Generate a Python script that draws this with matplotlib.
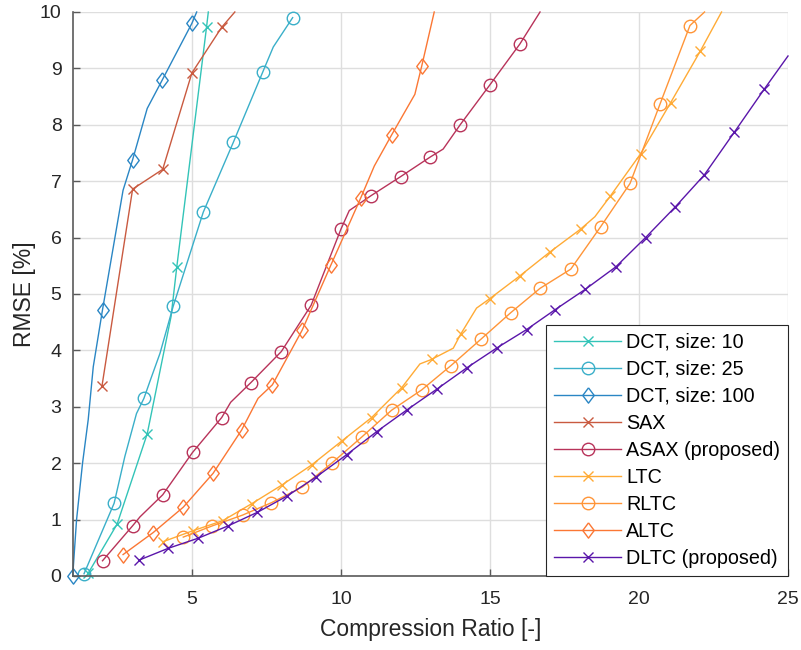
import matplotlib
matplotlib.use("Agg")
import matplotlib.pyplot as plt

plt.rcParams['font.family'] = ['Liberation Sans', 'DejaVu Sans']

# ---- data (compression ratio, RMSE %) ----
# markers are drawn only on the listed indices, other points are line kinks
dct10_x = [1.52, 2.49, 3.5, 4.3, 4.49, 5.49, 5.55]
dct10_y = [0.05, 0.92, 2.52, 4.6, 5.47, 9.73, 10.0]
dct10_mk = [0, 1, 2, 4, 5]

dct25_x = [1.38, 2.39, 2.75, 3.14, 3.39, 3.59, 3.93, 4.37, 5.38, 6.39, 7.38, 7.73, 8.38]
dct25_y = [0.04, 1.29, 2.12, 2.88, 3.15, 3.45, 3.95, 4.78, 6.45, 7.69, 8.94, 9.38, 9.9]
dct25_mk = [0, 1, 4, 7, 8, 9, 10, 12]

dct100_x = [1.0, 1.13, 1.33, 1.52, 1.69, 2.0, 2.69, 3.01, 3.5, 4.0, 5.0, 5.16]
dct100_y = [0.0, 1.0, 2.0, 2.77, 3.71, 4.72, 6.84, 7.38, 8.29, 8.79, 9.8, 10.0]
dct100_mk = [0, 5, 7, 9, 10]

sax_x = [1.98, 3.01, 4.02, 5.0, 6.0, 6.44]
sax_y = [3.36, 6.86, 7.21, 8.92, 9.73, 10.0]
sax_mk = [0, 1, 2, 3, 4]

asax_x = [2.0, 3.01, 3.26, 4.02, 5.02, 6.0, 6.3, 6.98, 8.0, 9.0, 10.0, 10.28,
          11.0, 12.0, 13.0, 13.43, 14.0, 15.0, 16.0, 16.68]
asax_y = [0.27, 0.89, 1.05, 1.44, 2.19, 2.81, 3.08, 3.43, 3.98, 4.8, 6.15, 6.48,
          6.74, 7.08, 7.43, 7.57, 8.0, 8.71, 9.43, 10.0]
asax_mk = [0, 1, 3, 4, 5, 7, 8, 9, 10, 12, 13, 14, 16, 17, 18]

ltc_x = [4.04, 5.02, 6.03, 7.0, 8.01, 9.02, 10.02, 11.03, 12.04, 12.65, 13.04,
         13.77, 14.02, 14.55, 15.0, 16.0, 17.0, 18.04, 18.52, 19.03, 20.06,
         21.06, 22.05, 22.77]
ltc_y = [0.61, 0.8, 0.98, 1.28, 1.61, 1.97, 2.39, 2.81, 3.34, 3.76, 3.84,
         4.04, 4.29, 4.75, 4.92, 5.32, 5.74, 6.15, 6.37, 6.73, 7.49,
         8.39, 9.3, 10.0]
ltc_mk = [0, 1, 2, 3, 4, 5, 6, 7, 8, 10, 12, 14, 15, 16, 17, 19, 20, 21, 22]

rltc_x = [4.71, 5.69, 6.7, 7.67, 8.71, 9.69, 10.69, 11.7, 12.71, 13.69, 14.7,
          15.7, 16.68, 17.71, 18.71, 19.7, 20.7, 21.71, 22.2]
rltc_y = [0.69, 0.89, 1.08, 1.3, 1.58, 2.0, 2.46, 2.94, 3.3, 3.73, 4.2,
          4.67, 5.1, 5.44, 6.19, 6.96, 8.36, 9.76, 10.0]
rltc_mk = list(range(18))

altc_x = [2.69, 3.7, 4.71, 5.71, 6.67, 7.22, 7.7, 8.7, 9.66, 10.67, 11.12,
          11.7, 12.48, 12.71, 13.13]
altc_y = [0.38, 0.77, 1.22, 1.82, 2.59, 3.15, 3.39, 4.36, 5.51, 6.71, 7.27,
          7.82, 8.54, 9.04, 10.0]
altc_mk = [0, 1, 2, 3, 4, 6, 7, 8, 9, 11, 13]

dltc_x = [3.22, 4.2, 5.21, 6.22, 7.2, 8.2, 9.18, 10.19, 11.2, 12.2, 13.21,
          14.22, 15.22, 16.23, 17.18, 18.19, 19.22, 20.22, 21.21, 22.19,
          23.2, 24.2, 25.0]
dltc_y = [0.28, 0.49, 0.67, 0.89, 1.13, 1.42, 1.76, 2.15, 2.56, 2.94, 3.31,
          3.69, 4.04, 4.37, 4.72, 5.08, 5.48, 6.0, 6.54, 7.11,
          7.87, 8.63, 9.22]
dltc_mk = list(range(22))

x_ticks = [5, 10, 15, 20, 25]
y_ticks = [0, 1, 2, 3, 4, 5, 6, 7, 8, 9, 10]

# matlab-like tall diamond
diamond = [(0, 1), (0.75, 0), (0, -1), (-0.75, 0), (0, 1)]

series = [
    (dct10_x, dct10_y, dct10_mk, "DCT, size: 10", '#33c4b8', 'x', 7),
    (dct25_x, dct25_y, dct25_mk, "DCT, size: 25", '#3aafc9', 'o', 9),
    (dct100_x, dct100_y, dct100_mk, "DCT, size: 100", '#2a86c4', diamond, 11),
    (sax_x, sax_y, sax_mk, "SAX", '#c95a40', 'x', 7),
    (asax_x, asax_y, asax_mk, "ASAX (proposed)", '#b8335a', 'o', 9),
    (ltc_x, ltc_y, ltc_mk, "LTC", '#ffab36', 'x', 7),
    (rltc_x, rltc_y, rltc_mk, "RLTC", '#ff9538', 'o', 9),
    (altc_x, altc_y, altc_mk, "ALTC", '#fb7734', diamond, 11),
    (dltc_x, dltc_y, dltc_mk, "DLTC (proposed)", '#5a16aa', 'x', 7),
]

fig = plt.figure(figsize=(8.01, 6.5), dpi=100)
ax = fig.add_axes([72.7/801, 74/650, (788-72.7)/801, 564/650])

for x, y, mk, name, col, m, ms in series:
    ax.plot(x, y, color=col, lw=1.0, marker=m, markevery=mk, ms=ms,
            mfc='none', mec=col, mew=1.0, label=name, clip_on=False)

ax.set_xlim(1, 25)
ax.set_ylim(0, 10)
ax.set_xticks(x_ticks)
ax.set_yticks(y_ticks)

ax.grid(True, color='#dedede', lw=1.0)
ax.set_axisbelow(True)
for s in ['top', 'right']:
    ax.spines[s].set_visible(False)
for s in ['left', 'bottom']:
    ax.spines[s].set_color('#5a5a5a')
    ax.spines[s].set_linewidth(1.2)
ax.tick_params(direction='in', length=5, width=1, color='#5a5a5a',
               labelsize=14, labelcolor='#262626', pad=8)
ax.tick_params(axis='x', pad=11)

ax.set_xlabel("Compression Ratio [-]", fontsize=16.5, color='#262626', labelpad=7)
ax.set_ylabel("RMSE [%]", fontsize=16.5, color='#262626', labelpad=3)

leg = ax.legend(loc='lower right', bbox_to_anchor=(1, 0), borderaxespad=0,
                fontsize=14.2, handlelength=3.4, handletextpad=0.25,
                labelspacing=0.41, borderpad=0.4, fancybox=False,
                framealpha=1, edgecolor='#262626')
leg.get_frame().set_linewidth(0.8)

fig.savefig("out.png", dpi=100)
